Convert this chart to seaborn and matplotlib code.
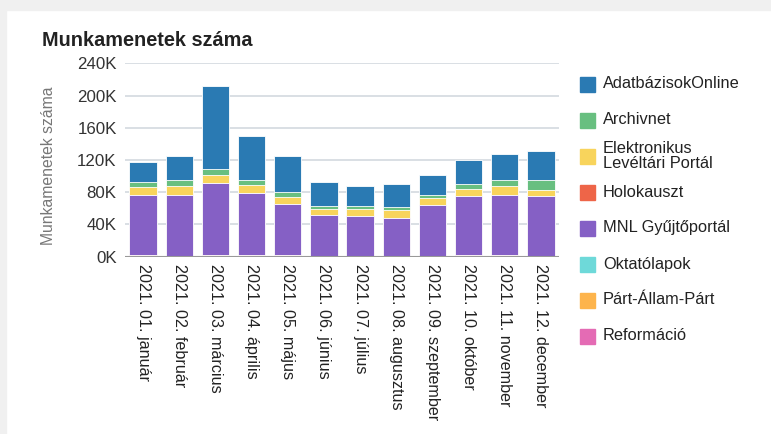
import numpy as np
import pandas as pd
import matplotlib
matplotlib.use("Agg")
import matplotlib.pyplot as plt
from matplotlib.patches import Rectangle
from matplotlib.ticker import FuncFormatter
import seaborn as sns

months = ["2021. 01. január", "2021. 02. február", "2021. 03. március", "2021. 04. április",
          "2021. 05. május", "2021. 06. június", "2021. 07. július", "2021. 08. augusztus",
          "2021. 09. szeptember", "2021. 10. október", "2021. 11. november", "2021. 12. december"]

# values in thousands
adatbazisok = [24.9, 30.3, 103.6, 55.0, 45.4, 29.7, 24.4, 28.5, 24.8, 30.2, 31.9, 36.0]
archivnet = [7.0, 7.0, 7.4, 5.6, 5.5, 3.7, 3.7, 3.7, 3.4, 5.8, 7.5, 13.1]
elektronikus = [9.5, 11.5, 9.2, 10.8, 9.0, 7.5, 9.1, 9.2, 9.0, 9.1, 11.1, 7.5]
holokauszt = [0] * 12
mnl = [74.0, 76.5, 89.3, 76.1, 62.9, 52.1, 50.5, 48.4, 63.8, 72.4, 74.4, 74.9]
oktatolapok = [0] * 12
part_allam_part = [0] * 12
reformacio = [2.5, 0, 2.5, 2.5, 2.5, 0, 0, 0, 0, 2.5, 2.5, 0]

series_names = ["AdatbázisokOnline", "Archivnet", "Elektronikus\nLevéltári Portál", "Holokauszt",
                "MNL Gyűjtőportál", "Oktatólapok", "Párt-Állam-Párt", "Reformáció"]
series_values = [adatbazisok, archivnet, elektronikus, holokauszt, mnl, oktatolapok,
                 part_allam_part, reformacio]
colors = ["#2a7ab3", "#68bf80", "#f8d45c", "#ee6548", "#8560c5", "#6ed9d9", "#fdb44c", "#e46bb4"]

df = pd.DataFrame({name: vals for name, vals in zip(series_names, series_values)})
df["Month"] = months

sns.set_style("white")
plt.rcParams["font.family"] = ["Liberation Sans", "DejaVu Sans"]

fig = plt.figure(figsize=(7.71, 4.34), dpi=100)
fig.patch.set_facecolor("white")
# grey page frame around the white card
fig.patches.append(Rectangle((0, 1 - 10 / 434), 1, 10 / 434, transform=fig.transFigure,
                             color="#f0f0f0", zorder=0))
fig.patches.append(Rectangle((0, 0), 6 / 771, 1, transform=fig.transFigure,
                             color="#f0f0f0", zorder=0))

ax = fig.add_axes([125 / 771, 177.3 / 434, 434 / 771, 193.4 / 434])

# stacked bars: draw cumulative totals from the top series down
totals = np.zeros(len(months))
cums = []
for name in reversed(series_names):
    totals = totals + df[name].values
    cums.append(totals.copy())
cums = cums[::-1]
for cum, color in zip(cums, colors):
    sns.barplot(x=months, y=cum, color=color, saturation=1, width=0.76, errorbar=None,
                edgecolor="white", linewidth=0.6, ax=ax, zorder=3)

ax.set_ylim(0, 240)
ax.set_xlim(-0.5, 11.5)
ax.set_yticks(range(0, 241, 40))
ax.yaxis.set_major_formatter(FuncFormatter(lambda v, p: f"{v:.0f}K"))
ax.grid(axis="y", color="#d3d9df", linewidth=1.2, zorder=0)
ax.axhline(0, color="#999999", linewidth=1.5, zorder=4)
for s in ax.spines.values():
    s.set_visible(False)
ax.tick_params(axis="y", length=0, pad=6, labelsize=12.2, labelcolor="#333333")
ax.tick_params(axis="x", length=0, pad=5, labelsize=11.6, labelcolor="#222222")
ax.set_xticks(range(len(months)))
ax.set_xticklabels(months, rotation=270, ha="center", va="top")

ax.set_xlabel("")
ax.set_ylabel("Munkamenetek száma", fontsize=11.3, color="#777777")
ax.yaxis.set_label_coords(-0.16, 0.47)

fig.text(42 / 771, 1 - 40 / 434, "Munkamenetek száma", fontsize=14.3, fontweight="bold",
         color="#222222", ha="left", va="center")

# legend
for i, (name, color) in enumerate(zip(series_names, colors)):
    yc = 84 + 36 * i
    fig.patches.append(Rectangle((580 / 771, 1 - (yc + 7.5) / 434), 15 / 771, 15 / 434,
                                 transform=fig.transFigure, color=color))
    fig.text(603 / 771, 1 - yc / 434, name, fontsize=11.8, color="#222222",
             ha="left", va="center", multialignment="left", linespacing=0.95)

plt.savefig("out.png", dpi=100)
plt.close("all")
